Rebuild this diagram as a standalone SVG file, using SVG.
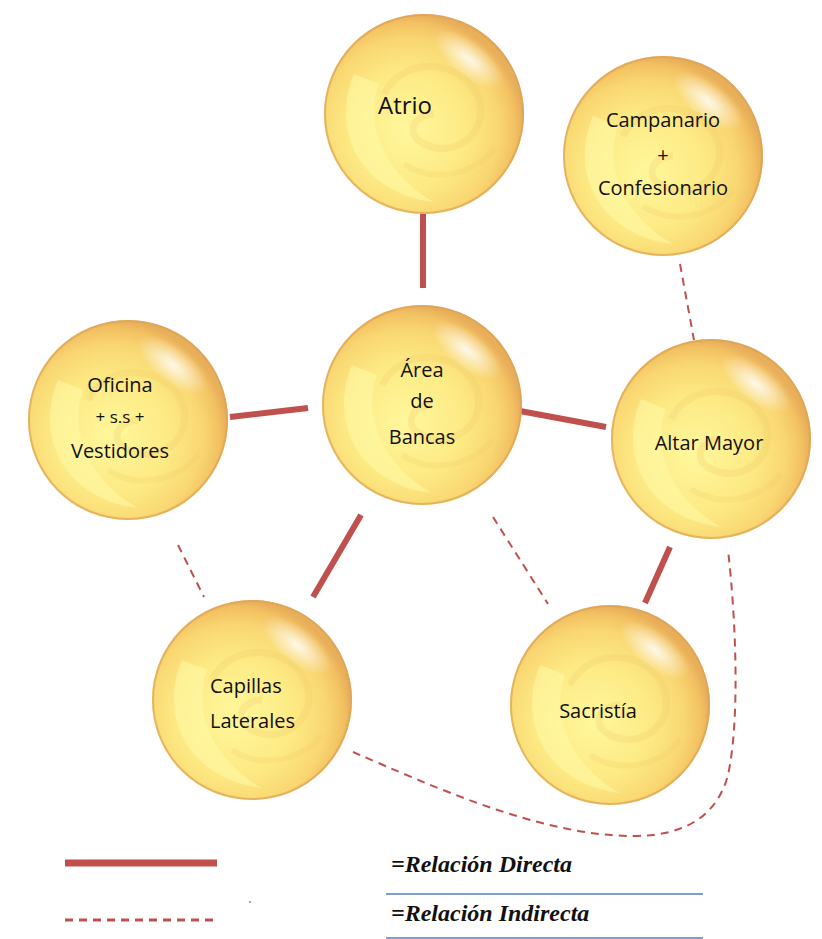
<svg xmlns="http://www.w3.org/2000/svg" xmlns:xlink="http://www.w3.org/1999/xlink" width="822" height="939" viewBox="0 0 822 939">
<style>
.lbl{font-family:"Open Sans","Liberation Sans",sans-serif;font-size:20px;fill:#111;text-anchor:middle}
.small{font-size:17px}
.solid{stroke:#C0504D;stroke-width:6;fill:none}
.dash{stroke:#C0504D;stroke-width:2;stroke-dasharray:8 6;fill:none}
.leg{font-family:"Liberation Serif",serif;font-style:italic;font-weight:bold;font-size:24px;fill:#111}
</style>
<defs>
<radialGradient id="gold" cx="0.42" cy="0.58" r="0.58">
<stop offset="0" stop-color="#FFF79C"/>
<stop offset="0.5" stop-color="#FDEA84"/>
<stop offset="0.78" stop-color="#F9D772"/>
<stop offset="0.92" stop-color="#F3C262"/>
<stop offset="1" stop-color="#E8AE5A"/>
</radialGradient>
<radialGradient id="hl" cx="0.5" cy="0.5" r="0.5">
<stop offset="0" stop-color="#FFFFFF" stop-opacity="0.85"/>
<stop offset="1" stop-color="#FFFFFF" stop-opacity="0"/>
</radialGradient>
<symbol id="sphere" viewBox="-102 -102 204 204">
<circle r="100" fill="url(#gold)"/>
<path d="M-70,-40 C-95,20 -60,80 10,88 C-40,60 -60,10 -45,-30 Z" fill="#FFFAA8" opacity="0.55"/>
<path d="M-40,-20 C-20,-60 40,-55 55,-15 C65,20 30,45 0,30 C-20,20 -10,0 10,0" stroke="#F0C866" stroke-width="7" fill="none" opacity="0.25"/>
<path d="M-20,50 C10,70 50,60 70,35" stroke="#F0C866" stroke-width="6" fill="none" opacity="0.22"/>
<ellipse cx="45" cy="-55" rx="42" ry="18" transform="rotate(38 45 -55)" fill="url(#hl)"/>
<circle r="99" fill="none" stroke="#DDA255" stroke-width="2" opacity="0.7"/>
</symbol>
</defs>
<rect width="822" height="939" fill="#FFFFFF"/>
<g id="connectors">
<line class="solid" x1="423" y1="210" x2="423" y2="288"/>
<line class="solid" x1="230" y1="417" x2="308" y2="408"/>
<line class="solid" x1="520" y1="411" x2="606" y2="427"/>
<line class="solid" x1="361" y1="515" x2="313" y2="597"/>
<line class="solid" x1="670" y1="547" x2="645" y2="603"/>
<line class="dash" x1="680" y1="264" x2="694" y2="340"/>
<line class="dash" x1="178" y1="545" x2="204" y2="597"/>
<line class="dash" x1="493" y1="517" x2="548" y2="604"/>
<path class="dash" d="M353,752 C430,785 540,836 633,836 C690,836 718,812 728,775 C740,720 736,620 728,550"/>
</g>
<g id="atrio">
<use xlink:href="#sphere" x="322" y="12" width="204" height="204"/>
<text class="lbl" x="405" y="114" style="font-size:24px">Atrio</text>
</g>
<g id="campanario">
<use xlink:href="#sphere" x="561" y="54" width="204" height="204"/>
<text class="lbl" x="663" y="127">Campanario</text>
<text class="lbl" x="663" y="162">+</text>
<text class="lbl" x="663" y="195">Confesionario</text>
</g>
<g id="oficina">
<use xlink:href="#sphere" x="26" y="318" width="204" height="204"/>
<text class="lbl" x="120" y="392">Oficina</text>
<text class="lbl small" x="120" y="423">+ s.s +</text>
<text class="lbl" x="120" y="458">Vestidores</text>
</g>
<g id="bancas">
<use xlink:href="#sphere" x="320" y="303" width="204" height="204"/>
<text class="lbl" x="422" y="377">Área</text>
<text class="lbl" x="422" y="408">de</text>
<text class="lbl" x="422" y="444">Bancas</text>
</g>
<g id="altar">
<use xlink:href="#sphere" x="609" y="337" width="204" height="204"/>
<text class="lbl" x="709" y="450">Altar Mayor</text>
</g>
<g id="capillas">
<use xlink:href="#sphere" x="150" y="598" width="204" height="204"/>
<text class="lbl" x="210" y="693" style="text-anchor:start">Capillas</text>
<text class="lbl" x="210" y="728" style="text-anchor:start">Laterales</text>
</g>
<g id="sacristia">
<use xlink:href="#sphere" x="508" y="603" width="204" height="204"/>
<text class="lbl" x="598" y="718">Sacristía</text>
</g>
<g id="legend">
<line x1="65" y1="863" x2="217" y2="863" stroke="#C0504D" stroke-width="7"/>
<line x1="65" y1="920" x2="217" y2="920" stroke="#C0504D" stroke-width="3" stroke-dasharray="8 6"/>
<circle cx="250" cy="902" r="0.8" fill="#333"/>
<text class="leg" x="391" y="872">=Relación Directa</text>
<line x1="386" y1="894" x2="703" y2="894" stroke="#4F81BD" stroke-width="1.5"/>
<text class="leg" x="391" y="921">=Relación Indirecta</text>
<line x1="386" y1="938" x2="703" y2="938" stroke="#4F81BD" stroke-width="1.5"/>
</g>
</svg>
